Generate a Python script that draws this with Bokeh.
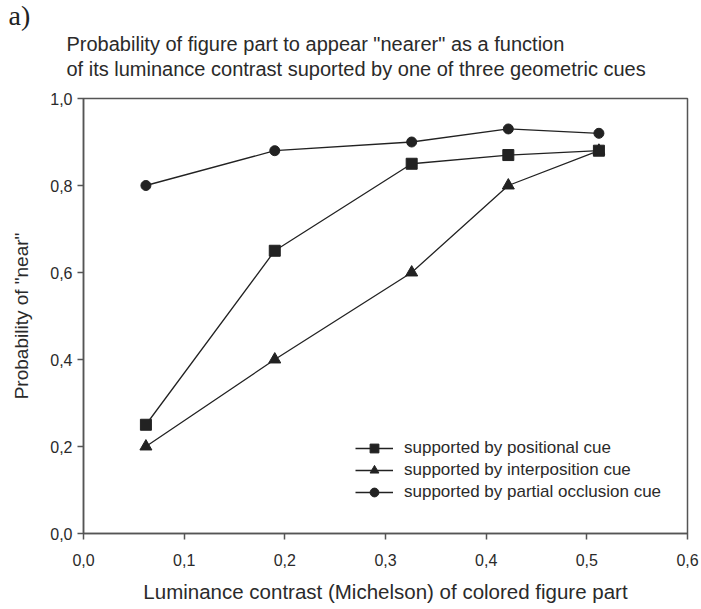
from bokeh.plotting import figure
from bokeh.models import Range1d, FixedTicker, Legend, LegendItem, Title
from bokeh.embed import file_html
from bokeh.resources import INLINE

# ---- data ----
contrast = [0.062, 0.190, 0.326, 0.422, 0.512]
positional = [0.25, 0.65, 0.85, 0.87, 0.88]
interposition = [0.20, 0.40, 0.60, 0.80, 0.88]
occlusion = [0.80, 0.88, 0.90, 0.93, 0.92]
series_names = ["supported by positional cue",
                "supported by interposition cue",
                "supported by partial occlusion cue"]
x_ticks = [0.0, 0.1, 0.2, 0.3, 0.4, 0.5, 0.6]
x_tick_labels = ["0,0", "0,1", "0,2", "0,3", "0,4", "0,5", "0,6"]
y_ticks = [0.0, 0.2, 0.4, 0.6, 0.8, 1.0]
y_tick_labels = ["0,0", "0,2", "0,4", "0,6", "0,8", "1,0"]
title_lines = ['Probability of figure part to appear "nearer" as a function',
               'of its luminance contrast suported by one of three geometric cues']
panel_tag = "a)"
x_label = "Luminance contrast (Michelson) of colored figure part"
y_label = 'Probability of "near"'

FONT = "Liberation Sans"
INK = "#222222"
AXIS = "#555555"
TXT = "#2a2a2a"

p = figure(width=701, height=609, output_backend="svg", toolbar_location=None,
           x_range=Range1d(0, 0.6), y_range=Range1d(0, 1.0),
           min_border_left=83, min_border_right=14, min_border_top=98,
           min_border_bottom=76)
p.xgrid.visible = False
p.ygrid.visible = False
p.outline_line_color = AXIS
p.outline_line_width = 1.5
p.background_fill_color = "white"
p.border_fill_color = "white"

for ax, ticks, labels in ((p.xaxis[0], x_ticks, x_tick_labels),
                          (p.yaxis[0], y_ticks, y_tick_labels)):
    ax.ticker = FixedTicker(ticks=ticks)
    ax.major_label_overrides = {t: l for t, l in zip(ticks, labels)}
    ax.minor_tick_line_color = None
    ax.major_tick_out = 6
    ax.major_tick_in = 0
    ax.axis_line_color = AXIS
    ax.axis_line_width = 1.5
    ax.major_tick_line_color = AXIS
    ax.major_tick_line_width = 1.5
    ax.major_label_text_font = FONT
    ax.major_label_text_font_size = "16px"
    ax.major_label_text_color = TXT
    ax.axis_label_text_font = FONT
    ax.axis_label_text_font_style = "normal"
    ax.axis_label_text_color = TXT
p.xaxis.major_label_standoff = 14
p.yaxis.major_label_standoff = 5
p.xaxis.axis_label = x_label
p.xaxis.axis_label_text_font_size = "20.5px"
p.xaxis.axis_label_standoff = 11
p.yaxis.axis_label = y_label
p.yaxis.axis_label_text_font_size = "19px"
p.yaxis.axis_label_standoff = 15

items = []
for ys, marker, size, name in ((positional, "square", 11, series_names[0]),
                               (interposition, "triangle", 12, series_names[1]),
                               (occlusion, "circle", 10, series_names[2])):
    ln = p.line(contrast, ys, line_color=INK, line_width=1.3)
    sc = p.scatter(contrast, ys, marker=marker, size=size,
                   fill_color=INK, line_color=INK)
    items.append(LegendItem(label=name, renderers=[ln, sc]))

legend = Legend(items=items, location=(272, 30), padding=0, margin=0,
                spacing=0, glyph_width=38, glyph_height=22, label_height=22,
                label_standoff=11, border_line_color=None,
                background_fill_alpha=0,
                label_text_font=FONT, label_text_font_size="17px",
                label_text_color=TXT)
p.add_layout(legend)

# two-line title nearest the frame, then the panel tag above it
p.add_layout(Title(text="\n".join(title_lines), align="left", offset=-17,
                   standoff=36, text_font=FONT, text_font_size="20px",
                   text_font_style="normal", text_color=TXT,
                   text_line_height=1.15), "above")
p.add_layout(Title(text=panel_tag, align="left", offset=-75, standoff=-34,
                   text_font="Liberation Serif", text_font_size="28px",
                   text_font_style="normal", text_color=INK), "above")

open("out.html", "w").write(file_html(p, INLINE))
